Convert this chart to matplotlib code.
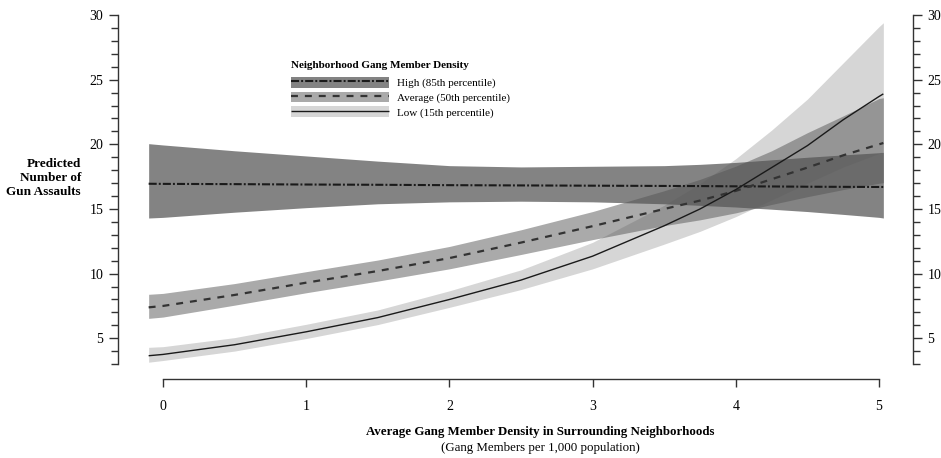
import numpy as np
import matplotlib
matplotlib.use("Agg")
import matplotlib.pyplot as plt
from matplotlib.patches import Patch
from matplotlib.legend_handler import HandlerTuple

plt.rcParams['font.family'] = ['Liberation Serif', 'DejaVu Serif']
plt.rcParams['lines.scale_dashes'] = False

# x positions (gang members per 1,000 population)
x = [-0.1, 0.0, 0.5, 1.0, 1.5, 2.0, 2.5, 3.0, 3.5, 3.75, 4.0, 4.25, 4.5, 4.75, 5.0, 5.03]

# high (85th percentile)
high_mid = [16.95, 16.94, 16.92, 16.89, 16.87, 16.84, 16.82, 16.80, 16.78, 16.77, 16.75, 16.74, 16.72, 16.71, 16.70, 16.70]
high_up = [20.05, 19.95, 19.5, 19.1, 18.7, 18.35, 18.25, 18.3, 18.35, 18.45, 18.6, 18.8, 19.0, 19.18, 19.35, 19.4]
high_lo = [14.3, 14.35, 14.75, 15.1, 15.4, 15.55, 15.6, 15.55, 15.4, 15.28, 15.15, 14.98, 14.8, 14.58, 14.35, 14.3]

# average (50th percentile)
avg_mid = [7.39, 7.5, 8.35, 9.3, 10.2, 11.2, 12.4, 13.67, 15.0, 15.65, 16.4, 17.3, 18.2, 19.15, 20.0, 20.1]
avg_up = [8.4, 8.47, 9.23, 10.15, 11.05, 12.1, 13.39, 14.8, 16.41, 17.29, 18.31, 19.5, 20.9, 22.2, 23.54, 23.6]
avg_lo = [6.54, 6.64, 7.56, 8.52, 9.42, 10.37, 11.48, 12.63, 13.71, 14.16, 14.7, 15.35, 15.95, 16.5, 16.99, 17.03]

# low (15th percentile)
low_mid = [3.65, 3.75, 4.5, 5.5, 6.6, 8.0, 9.5, 11.35, 13.7, 15.0, 16.5, 18.2, 19.9, 21.9, 23.7, 23.9]
low_up = [4.3, 4.35, 5.05, 6.08, 7.19, 8.67, 10.29, 12.42, 15.29, 16.95, 18.89, 21.1, 23.5, 26.3, 29.1, 29.4]
low_lo = [3.15, 3.28, 4.01, 4.98, 6.06, 7.39, 8.77, 10.37, 12.28, 13.27, 14.41, 15.7, 17.0, 18.25, 19.3, 19.45]

labels = ['High (85th percentile)', 'Average (50th percentile)', 'Low (15th percentile)']
xticks = [0, 1, 2, 3, 4, 5]
yticks = [5, 10, 15, 20, 25, 30]

band_col = ['#5a5a5a', '#525252', '#575757']
band_alpha = [0.75, 0.49, 0.245]
line_col = ['#1a1a1a', '#333333', '#1a1a1a']
line_w = [1.5, 1.6, 1.0]
dash = [(5.8, 1.5, 1.4, 1.5), (5.0, 5.0), None]

fig = plt.figure(figsize=(9.41, 4.58), dpi=100)
W, H = 941, 458
ax = fig.add_axes([118 / W, 1 - 379 / H, (913 - 118) / W, (379 - 15) / H])

series = [(high_lo, high_mid, high_up), (avg_lo, avg_mid, avg_up), (low_lo, low_mid, low_up)]
for i, (lo, mid, up) in enumerate(series):
    ax.fill_between(x, lo, up, color=band_col[i], alpha=band_alpha[i], linewidth=0)

handles = []
for i, (lo, mid, up) in enumerate(series):
    if dash[i] is None:
        ln, = ax.plot(x, mid, color=line_col[i], lw=line_w[i], solid_capstyle='butt')
    else:
        ln, = ax.plot(x, mid, color=line_col[i], lw=line_w[i], dashes=dash[i])
    p = Patch(facecolor=band_col[i], alpha=band_alpha[i], edgecolor='none')
    handles.append((p, ln))

ax.set_xlim(-0.314, 5.237)
ax.set_ylim(1.85, 30)

for s in ['left', 'right', 'bottom']:
    ax.spines[s].set_color('#333333')
    ax.spines[s].set_linewidth(1.0)
ax.spines['top'].set_visible(False)
ax.spines['left'].set_bounds(3, 30)
ax.spines['right'].set_bounds(3, 30)
ax.spines['bottom'].set_bounds(0, 5)

ax.set_xticks(xticks)
ax.set_yticks(yticks)
ax.set_yticks(np.arange(3, 31, 1), minor=True)
ax.yaxis.set_ticks_position('both')
ax.tick_params(axis='y', which='major', direction='out', length=6.5, width=1.0,
               color='#333333', labelsize=10, pad=4, labelright=True)
ax.tick_params(axis='y', which='minor', direction='out', length=4.8, width=1.0,
               color='#333333')
ax.tick_params(axis='x', which='major', direction='out', length=6, width=1.0,
               color='#333333', labelsize=10, pad=9)

fig.text(81 / W, 1 - 178 / H, 'Predicted\nNumber of\nGun Assaults', ha='right', va='center',
         fontsize=9.5, fontweight='bold', linespacing=1.25)
fig.text(540 / W, 1 - 432 / H, 'Average Gang Member Density in Surrounding Neighborhoods',
         ha='center', va='center', fontsize=9.3, fontweight='bold')
fig.text(540 / W, 1 - 448 / H, '(Gang Members per 1,000 population)',
         ha='center', va='center', fontsize=9.3)

leg = ax.legend(handles, labels, handler_map={tuple: HandlerTuple(ndivide=1)},
                loc='upper left', bbox_to_anchor=(291 / W, 1 - 61 / H), bbox_transform=fig.transFigure,
                frameon=False, fontsize=8, handlelength=8.8, handleheight=1.1,
                handletextpad=0.7, labelspacing=0.3, borderpad=0, borderaxespad=0,
                title='Neighborhood Gang Member Density', alignment='left',
                title_fontproperties={'weight': 'bold', 'size': 8})
leg._legend_box.sep = 5

fig.savefig('out.png', dpi=100)
